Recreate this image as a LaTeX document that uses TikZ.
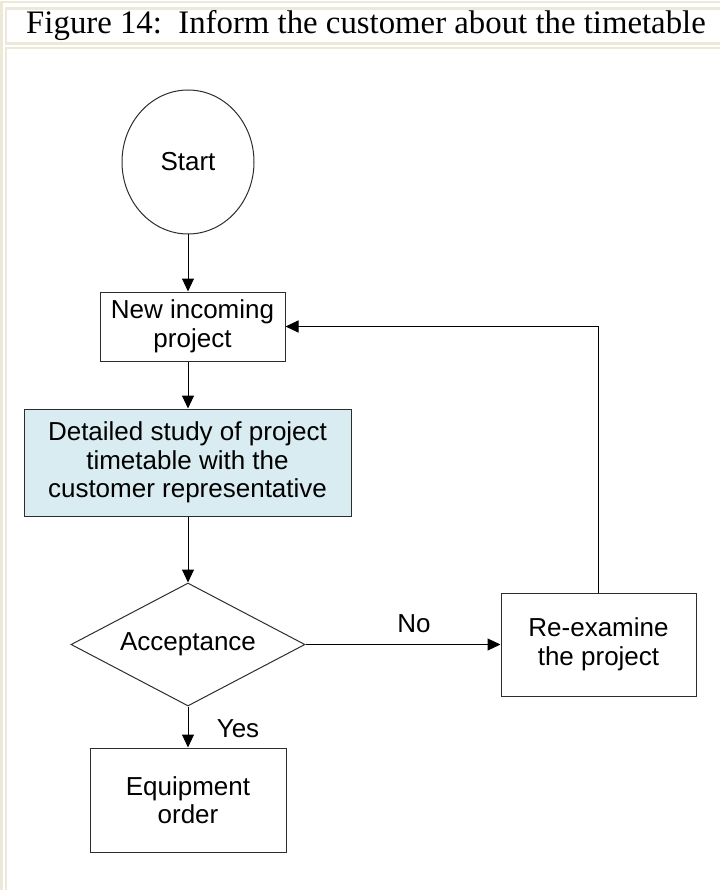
\documentclass[tikz,border=0pt]{standalone}
\usepackage{fontspec}
\setmainfont{Liberation Sans}
\newfontfamily\titlefont{Liberation Serif}
\usetikzlibrary{arrows.meta,shapes.geometric}
\definecolor{framebeige}{RGB}{236,233,216}
\definecolor{studyblue}{RGB}{216,236,242}
\definecolor{edgegray}{RGB}{45,45,45}
\begin{document}
\begin{tikzpicture}[x=1pt,y=-1pt,
  box/.style={draw=edgegray,line width=1pt,inner sep=0pt,align=center,
              font=\fontsize{26}{28.5}\selectfont},
  flow/.style={draw=black,line width=1pt,-{Triangle[length=13pt,width=12pt]}},
  lbl/.style={font=\fontsize{26}{28.5}\selectfont,inner sep=0pt},
  framerule/.style={draw=framebeige,line width=2.5pt}]
\useasboundingbox (0,0) rectangle (720,890);
% table frame around the figure
\draw[framerule] (1.5,890) -- (1.5,2) -- (720,2);
\draw[framerule] (720,8.5) -- (6,8.5) -- (6,43.5) -- (720,43.5);
\draw[framerule] (720,48) -- (6,48) -- (6,890);
\node[font=\titlefont\fontsize{32.8}{36}\selectfont,inner sep=0pt] (title) at (366,25)
  {Figure 14:\ \ Inform the customer about the timetable};

% flowchart nodes
\node[box,ellipse,minimum width=132pt,minimum height=144pt] (start) at (188,162) {Start};
\node[box,rectangle,minimum width=185pt,minimum height=69pt] (new) at (192.5,326.5)
  {New incoming\\project};
\node[box,rectangle,fill=studyblue,minimum width=327pt,minimum height=107pt] (study) at (187.5,462.5)
  {Detailed study of project\\timetable with the\\customer representative};
\node[box,diamond,aspect=1.9,minimum width=234pt,minimum height=123pt] (accept) at (188,644.5)
  {Acceptance};
\node[box,rectangle,minimum width=195pt,minimum height=103pt] (reexam) at (598.5,644.5)
  {Re-examine\\the project};
\node[box,rectangle,minimum width=196pt,minimum height=104pt] (equip) at (188,800)
  {Equipment\\order};

% connectors
\draw[flow] (start.south) -- (start.south |- new.north);
\draw[flow] (new.south -| start) -- (study.north -| start);
\draw[flow] (study.south -| start) -- (accept.north);
\draw[flow] (accept.east) -- (reexam.west);
\node[lbl] (nolabel) at (414,624) {No};
\draw[flow] (accept.south) -- (equip.north);
\node[lbl] (yeslabel) at (238,729) {Yes};
\draw[flow] (reexam.north) |- (new.east);
\end{tikzpicture}
\end{document}
